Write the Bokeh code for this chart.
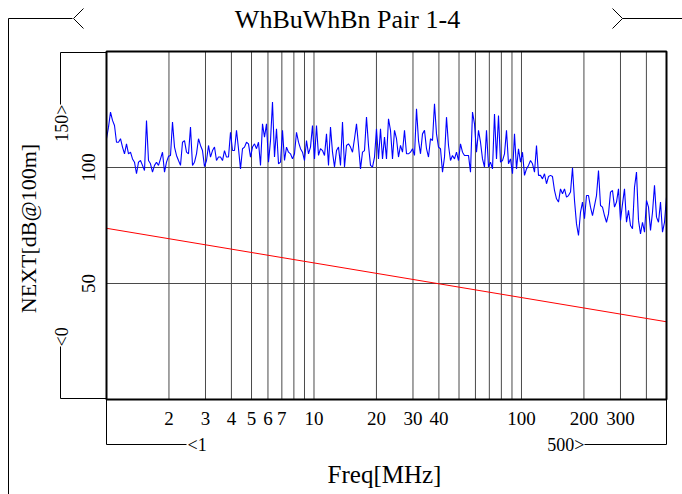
import math
import numpy as np
from bokeh.plotting import figure
from bokeh.models import Range1d, LogScale
from bokeh.core.properties import value
from bokeh.embed import file_html
from bokeh.resources import INLINE

# ---------------- data ----------------
TITLE = "WhBuWhBn Pair 1-4"
X_LABEL = "Freq[MHz]"
Y_LABEL = "NEXT[dB@100m]"
FREQ_START, FREQ_STOP = 1, 500
Y_MIN, Y_MAX = 0, 150
X_TICKS = [2, 3, 4, 5, 6, 7, 10, 20, 30, 40, 100, 200, 300]
X_GRID = [2, 3, 4, 5, 6, 7, 8, 9, 10, 20, 30, 40, 50, 60, 70, 80, 90, 100, 200, 300, 400]
Y_TICKS = [50, 100]
X_MIN_LABEL, X_MAX_LABEL = "<1", "500>"
Y_MIN_LABEL, Y_MAX_LABEL = "<0", "150>"

LIMIT_FREQ = [1, 500]
LIMIT_VALUES = [73.8, 33.5]

NEXT_VALUES = [
    112.4, 117.4, 123.9, 120.3, 118.1, 110.9, 110.9, 112.4, 108.8, 105.9,
    110.2, 105.9, 106.6, 103.7, 102.3, 97.3, 102.3, 103.0, 100.9, 98.7,
    120.3, 103.0, 101.6, 98.0, 100.9, 102.3, 100.9, 103.7, 106.6, 98.0,
    102.3, 104.8, 105.2, 119.6, 108.8, 105.2, 103.0, 100.9, 110.9, 111.6,
    106.6, 105.9, 117.4, 100.9, 102.3, 105.9, 112.4, 109.5, 107.3, 100.4,
    103.0, 109.5, 104.5, 107.3, 108.8, 103.0, 104.5, 104.5, 103.0, 107.3,
    104.5, 104.5, 115.2, 107.3, 107.3, 116.0, 108.1, 99.4, 108.1, 108.8,
    110.9, 110.2, 104.5, 108.8, 110.2, 108.1, 110.9, 100.9, 118.8, 113.1,
    118.8, 102.3, 111.6, 128.2, 104.5, 116.7, 101.6, 102.3, 116.0, 103.0,
    108.8, 106.6, 105.9, 103.7, 105.9, 115.2, 110.9, 108.1, 106.6, 103.0,
    111.6, 105.9, 108.8, 118.1, 103.7, 118.1, 105.2, 108.1, 107.3, 105.2,
    114.5, 100.9, 117.4, 106.6, 100.2, 107.3, 108.8, 100.9, 119.6, 100.2,
    109.5, 110.2, 108.8, 106.6, 112.4, 118.8, 109.5, 99.4, 106.6, 107.3,
    121.7, 109.5, 100.9, 100.2, 104.5, 116.7, 103.7, 116.7, 103.7, 113.1,
    103.7, 121.0, 116.0, 103.7, 116.0, 112.4, 104.5,
    109.5, 106.6, 116.0, 105.9, 105.9, 106.6, 108.1, 105.2, 125.3, 111.6,
    105.9, 114.5, 116.0, 108.1, 104.5, 112.4, 111.6, 127.5, 114.5, 108.8,
    108.1, 98.0, 104.5, 121.7, 109.5, 103.0, 105.2, 103.7, 106.6, 103.0,
    110.2, 106.6, 105.2, 105.2, 105.2, 98.0, 123.9, 118.8, 106.6, 116.0,
    110.9, 103.7, 100.2, 116.0, 100.2, 102.3, 99.4, 123.1, 103.7, 122.4,
    102.3, 103.0, 105.9, 116.0, 101.6, 103.7, 97.3, 114.5, 99.4, 108.1,
    102.3, 106.6, 96.6, 99.4, 100.9, 103.0, 101.6, 98.0, 109.5, 96.6,
    96.6, 95.1, 97.3, 93.0, 96.1, 96.6, 96.1, 90.1, 86.5, 85.1,
    90.8, 88.7, 90.8, 87.2, 87.9, 89.4, 99.9, 85.8, 75.7, 70.7,
    80.7, 85.1, 77.9, 87.9, 87.9, 82.9, 79.3, 83.6, 87.9, 98.7,
    83.6, 82.9, 79.3, 76.4, 80.0, 89.4, 90.1, 82.9, 85.1, 90.8,
    77.2, 84.3, 90.8, 76.4, 81.5, 75.0, 73.6, 91.5, 98.0, 77.2,
    71.4, 76.4, 72.1, 85.8, 82.9, 72.9, 80.7, 92.3, 78.6, 76.4,
    85.1, 72.1, 76.4, 87.2,
]
# log-spaced measurement sweep from FREQ_START to FREQ_STOP
NEXT_FREQ = np.geomspace(FREQ_START, FREQ_STOP, len(NEXT_VALUES))

# ---------------- layout (canvas pixels) ----------------
FONT = "Liberation Serif"
W, H = 682, 494
PL, PR, PT, PB = 106, 666, 51, 399      # plot-area edges on the canvas

# canvas-pixel coordinate system for decorations (y grows downward)
p = figure(width=W, height=H, x_range=Range1d(0, W), y_range=Range1d(H, 0),
           output_backend="svg", toolbar_location=None,
           x_axis_location=None, y_axis_location=None, min_border=0)
p.outline_line_color = None
p.background_fill_color = "white"
p.border_fill_color = "white"
p.grid.visible = False

# data coordinate system: log frequency / linear dB mapped onto the plot area
dec_per_px = (math.log10(FREQ_STOP) - math.log10(FREQ_START)) / (PR - PL)
f_lo = 10 ** (math.log10(FREQ_START) - PL * dec_per_px)
f_hi = 10 ** (math.log10(FREQ_STOP) + (W - PR) * dec_per_px)
db_per_px = (Y_MAX - Y_MIN) / (PB - PT)
db_lo = Y_MIN - (H - PB) * db_per_px
db_hi = Y_MAX + PT * db_per_px
p.extra_x_ranges = {"freq": Range1d(f_lo, f_hi)}
p.extra_x_scales = {"freq": LogScale()}
p.extra_y_ranges = {"db": Range1d(db_lo, db_hi)}
D = dict(x_range_name="freq", y_range_name="db")

GRID_COLOR = "#4a4a4a"
# grid
p.segment(x0=X_GRID, x1=X_GRID, y0=[Y_MIN] * len(X_GRID), y1=[Y_MAX] * len(X_GRID),
          line_color=GRID_COLOR, line_width=1, **D)
p.segment(x0=[FREQ_START] * len(Y_TICKS), x1=[FREQ_STOP] * len(Y_TICKS),
          y0=Y_TICKS, y1=Y_TICKS, line_color=GRID_COLOR, line_width=1, **D)

# series
p.line(NEXT_FREQ, NEXT_VALUES, line_color="#0000ff", line_width=1.1, **D)
p.line(LIMIT_FREQ, LIMIT_VALUES, line_color="#ff0000", line_width=1, **D)

# plot-area frame
p.quad(left=[FREQ_START], right=[FREQ_STOP], bottom=[Y_MIN], top=[Y_MAX],
       fill_color=None, line_color="black", line_width=2, **D)

TXT = dict(text_font=value(FONT), text_color="black")

# tick labels
p.text(x=X_TICKS, y=[418] * len(X_TICKS), text=[str(t) for t in X_TICKS],
       x_range_name="freq", text_align="center", text_baseline="middle",
       text_font_size="19px", **TXT)
p.text(x=[88] * len(Y_TICKS), y=Y_TICKS, text=[str(t) for t in Y_TICKS],
       y_range_name="db", angle=math.pi / 2, text_align="center",
       text_baseline="middle", text_font_size="19px", **TXT)

# axis labels and title
p.text(x=[384], y=[474], text=[X_LABEL], text_align="center", text_baseline="middle",
       text_font_size="25px", **TXT)
p.text(x=[28], y=[228], text=[Y_LABEL], angle=math.pi / 2, text_align="center",
       text_baseline="middle", text_font_size="22px", **TXT)
p.text(x=[347], y=[19], text=[TITLE], text_align="center", text_baseline="middle",
       text_font_size="26px", **TXT)

# range indicators
p.text(x=[61], y=[104], text=[Y_MAX_LABEL], angle=math.pi / 2, text_align="right",
       text_baseline="middle", text_font_size="18px", **TXT)
p.text(x=[61], y=[346], text=[Y_MIN_LABEL], angle=math.pi / 2, text_align="left",
       text_baseline="middle", text_font_size="18px", **TXT)
p.text(x=[187], y=[444], text=[X_MIN_LABEL], text_align="left",
       text_baseline="middle", text_font_size="18px", **TXT)
p.text(x=[584], y=[444], text=[X_MAX_LABEL], text_align="right",
       text_baseline="middle", text_font_size="18px", **TXT)

# bracket lines
BRACKETS_X = [
    [8, 72], [8, 8], [83, 73, 83], [612, 622, 612], [622, 682],
    [60, 106], [60, 60], [60, 60], [60, 106],
    [106, 106, 186], [584, 666, 666],
]
BRACKETS_Y = [
    [18, 18], [18, 494], [8, 18, 28], [8, 18, 28], [18, 18],
    [52, 52], [52, 104], [346, 398], [398, 398],
    [399, 444, 444], [444, 444, 399],
]
p.multi_line(xs=BRACKETS_X, ys=BRACKETS_Y, line_color="black", line_width=1)

open("out.html", "w").write(file_html(p, INLINE))
